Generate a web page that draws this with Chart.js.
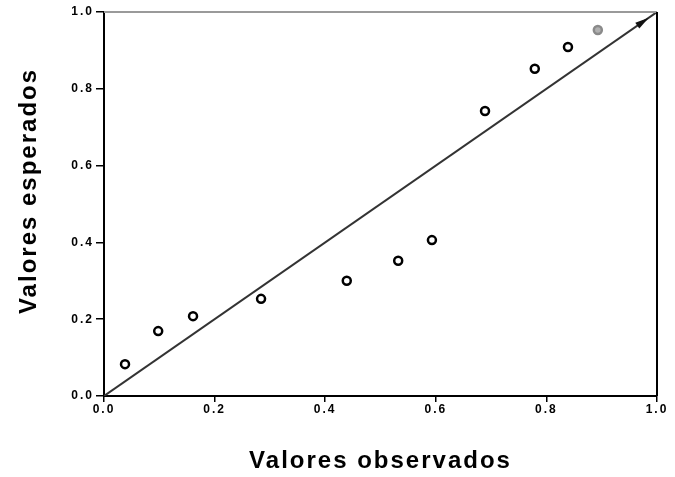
<!DOCTYPE html>
<html>
<head>
<meta charset="utf-8">
<script src="https://cdn.jsdelivr.net/npm/chart.js@4/dist/chart.umd.min.js"></script>
<style>
  html, body { margin: 0; padding: 0; background: #fff; }
  canvas { display: block; }
</style>
</head>
<body>
<canvas id="grafica" width="675" height="477"></canvas>
<script>
const observados = [0.038, 0.098, 0.161, 0.284, 0.439, 0.532, 0.593, 0.689, 0.779, 0.839, 0.893];
const esperados  = [0.083, 0.169, 0.208, 0.253, 0.300, 0.352, 0.406, 0.742, 0.852, 0.909, 0.953];
const diagonal = [0, 1];

const puntos = observados.map((x, i) => ({ x: x, y: esperados[i] }));
const coloresBorde = observados.map((x, i) => i === observados.length - 1 ? '#8a8a8a' : '#000');
const coloresFondo = observados.map((x, i) => i === observados.length - 1 ? '#b0b0b0' : '#fff');

// espaciado de letras como en la imagen
const espaciado = {
  id: 'espaciado',
  beforeUpdate(chart) { chart.ctx.letterSpacing = '2px'; },
  beforeLayout(chart) { chart.ctx.letterSpacing = '2px'; },
  beforeDraw(chart) { chart.ctx.letterSpacing = '2px'; }
};

// bordes superior y derecho del area, y la punta de flecha de la diagonal
const marco = {
  id: 'marco',
  afterDraw(chart) {
    const { ctx, chartArea: a } = chart;
    ctx.save();
    ctx.lineWidth = 2;
    ctx.strokeStyle = '#9a9a9a';
    ctx.beginPath();
    ctx.moveTo(a.left, a.top);
    ctx.lineTo(a.right, a.top);
    ctx.stroke();
    ctx.strokeStyle = '#000';
    ctx.beginPath();
    ctx.moveTo(a.right, a.top);
    ctx.lineTo(a.right, a.bottom);
    ctx.stroke();
    const sx = chart.scales.x, sy = chart.scales.y;
    const px = sx.getPixelForValue(diagonal[1]), py = sy.getPixelForValue(diagonal[1]);
    const ang = Math.atan2(py - sy.getPixelForValue(diagonal[0]), px - sx.getPixelForValue(diagonal[0]));
    ctx.translate(px - 18 * Math.cos(ang), py - 18 * Math.sin(ang));
    ctx.rotate(ang);
    ctx.fillStyle = '#111';
    ctx.beginPath();
    ctx.moveTo(8, 0);
    ctx.lineTo(-6, -3.5);
    ctx.lineTo(-6, 3.5);
    ctx.closePath();
    ctx.fill();
    ctx.restore();
  }
};

new Chart(document.querySelector('#grafica'), {
  type: 'scatter',
  data: {
    datasets: [
      {
        data: diagonal.map(v => ({ x: v, y: v })),
        showLine: true,
        borderColor: '#333',
        borderWidth: 2,
        pointRadius: 0
      },
      {
        data: puntos,
        pointStyle: 'circle',
        pointRadius: 4,
        pointBorderWidth: 2.5,
        pointBorderColor: coloresBorde,
        pointBackgroundColor: coloresFondo
      }
    ]
  },
  options: {
    responsive: false,
    animation: false,
    layout: { padding: { top: 12, right: 18, left: 0, bottom: 0 } },
    plugins: { legend: { display: false }, tooltip: { enabled: false } },
    scales: {
      x: {
        min: 0, max: 1,
        afterFit(s) { s.height = 81; },
        border: { color: '#000', width: 2 },
        grid: { drawOnChartArea: false, tickLength: 6, color: '#000', lineWidth: 1.5 },
        ticks: {
          stepSize: 0.2, padding: 0, color: '#000',
          font: { family: 'Arial, "Liberation Sans"', size: 12, weight: 'bold' },
          callback: v => v.toFixed(1)
        },
        title: {
          display: true, text: 'Valores observados', color: '#000',
          font: { family: 'Arial, "Liberation Sans"', size: 24, weight: 'bold' },
          padding: { top: 0, bottom: 1 }
        }
      },
      y: {
        min: 0, max: 1,
        afterFit(s) { s.width = 104; },
        border: { color: '#000', width: 2 },
        grid: { drawOnChartArea: false, tickLength: 8, color: '#000', lineWidth: 1.5 },
        ticks: {
          stepSize: 0.2, padding: 2, color: '#000',
          font: { family: 'Arial, "Liberation Sans"', size: 12, weight: 'bold' },
          callback: v => v.toFixed(1)
        },
        title: {
          display: true, text: '   Valores esperados', color: '#000',
          font: { family: 'Arial, "Liberation Sans"', size: 24, weight: 'bold' },
          padding: { top: 15, bottom: 0 }
        }
      }
    }
  },
  plugins: [espaciado, marco]
});
</script>
</body>
</html>
